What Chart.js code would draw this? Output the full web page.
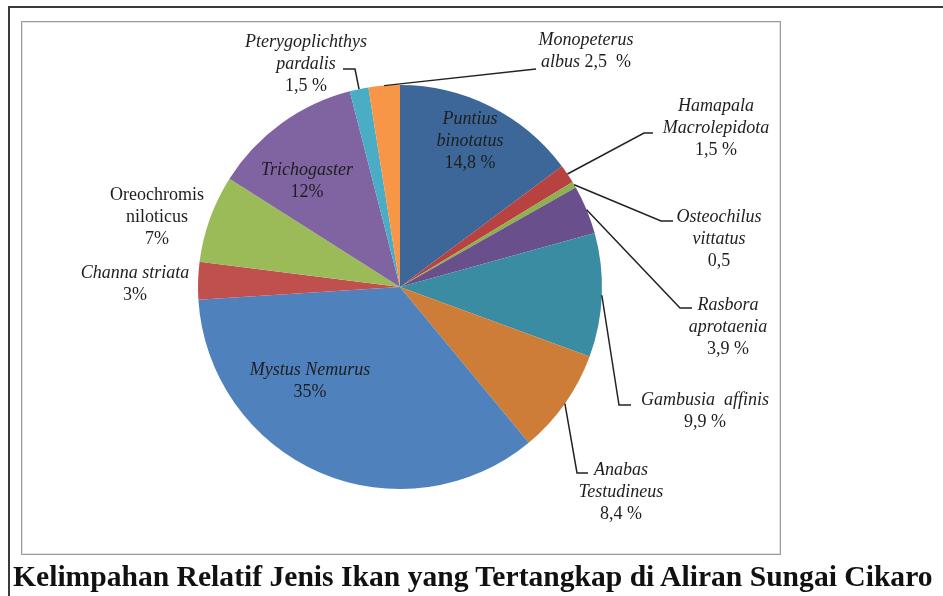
<!DOCTYPE html>
<html>
<head>
<meta charset="utf-8">
<script src="https://cdn.jsdelivr.net/npm/chart.js@4.4.1/dist/chart.umd.min.js"></script>
<style>
  html, body { margin: 0; padding: 0; background: #fff; }
  body { width: 943px; height: 596px; position: relative; overflow: hidden; }
  #outer { position: absolute; left: 8px; top: 6px; width: 940px; height: 600px;
           border-top: 2px solid #3a3a3a; border-left: 2px solid #3a3a3a; }
  #frame { position: absolute; left: 21px; top: 21px; width: 758px; height: 532px;
           border: 1px solid #9c9c9c; box-shadow: inset 0 0 0 1px #e2e2e2; }
  #chart { position: absolute; left: 0; top: 0; }
  #caption { position: absolute; left: 13px; top: 560px; white-space: nowrap;
             font: bold 29.6px "Liberation Serif", "Times New Roman", serif; color: #111; }
</style>
</head>
<body>
<div id="outer"></div>
<div id="frame"></div>
<canvas id="chart" width="943" height="596"></canvas>
<div id="caption">Kelimpahan Relatif Jenis Ikan yang Tertangkap di Aliran Sungai Cikaro</div>
<script>
// data, clockwise from 12 o'clock
const categories = ['Puntius binotatus', 'Hamapala Macrolepidota', 'Osteochilus vittatus',
    'Rasbora aprotaenia', 'Gambusia affinis', 'Anabas Testudineus', 'Mystus Nemurus',
    'Channa striata', 'Oreochromis niloticus', 'Trichogaster', 'Pterygoplichthys pardalis',
    'Monopeterus albus'];
const shares = [14.8, 1.5, 0.5, 3.9, 9.9, 8.4, 35, 3, 7, 12, 1.5, 2.5];
const valueLabels = ['14,8 %', '1,5 %', '0,5', '3,9 %', '9,9 %', '8,4 %', '35%', '3%', '7%', '12%', '1,5 %', '2,5  %'];
const nameLines = [
    ['Puntius', 'binotatus'], ['Hamapala', 'Macrolepidota'], ['Osteochilus', 'vittatus'],
    ['Rasbora', 'aprotaenia'], ['Gambusia  affinis'], ['Anabas', 'Testudineus'],
    ['Mystus Nemurus'], ['Channa striata'], ['Oreochromis', 'niloticus'], ['Trichogaster'],
    ['Pterygoplichthys', 'pardalis'], ['Monopeterus', 'albus']
];
const sliceColors = ['#3d6798', '#b8423f', '#8fb04e', '#694f8b', '#3a8ca3', '#cd7d38',
    '#4f81bd', '#c0504d', '#9bbb59', '#8064a2', '#4bacc6', '#f79646'];

// label placement relative to the pie centre (dx, dy of first line), leader elbow + end
const labelLayout = [
    { dx: 70, dy: -168 },
    { dx: 316, dy: -181, leader: [[244, -154], [253, -154]] },
    { dx: 319, dy: -70, leader: [[261, -66], [273, -66]] },
    { dx: 328, dy: 18, leader: [[280, 21], [292, 21]] },
    { dx: 305, dy: 113, leader: [[219, 118], [231, 118]] },
    { dx: 221, dy: 183, leader: [[177, 186], [188, 186]] },
    { dx: -90, dy: 83 },
    { dx: -265, dy: -14 },
    { dx: -243, dy: -92, upright: true },
    { dx: -93, dy: -117 },
    { dx: -94, dy: -245, leader: [[-45, -218], [-57, -218]] },
    { dx: 186, dy: -247, leader: [[136, -218], [136, -218]], inline: true }
];

const FONT = '18px "Liberation Serif", "Times New Roman", serif';
const FONT_I = 'italic ' + FONT;
const LINE_H = 22;

function drawSegments(ctx, segs, cx, cy) {
    let total = 0;
    segs.forEach(s => { ctx.font = s[1] ? FONT_I : FONT; total += ctx.measureText(s[0]).width; });
    let x = cx - total / 2;
    segs.forEach(s => {
        ctx.font = s[1] ? FONT_I : FONT;
        ctx.fillText(s[0], x, cy);
        x += ctx.measureText(s[0]).width;
    });
}

const pieLabels = {
    id: 'pieLabels',
    afterDatasetsDraw(chart) {
        const ctx = chart.ctx;
        const arcs = chart.getDatasetMeta(0).data;
        ctx.save();
        ctx.fillStyle = '#1e1e1e';
        ctx.strokeStyle = '#222';
        ctx.lineWidth = 1.5;
        ctx.textAlign = 'left';
        ctx.textBaseline = 'middle';
        arcs.forEach((arc, i) => {
            const p = arc.getProps(['x', 'y', 'startAngle', 'endAngle', 'outerRadius'], true);
            const lay = labelLayout[i];
            const italic = !lay.upright;
            const lines = nameLines[i].map(t => [[t, italic]]);
            if (lay.inline) lines[lines.length - 1].push([' ' + valueLabels[i], false]);
            else lines.push([[valueLabels[i], false]]);
            lines.forEach((segs, k) => drawSegments(ctx, segs, p.x + lay.dx, p.y + lay.dy + k * LINE_H));
            if (lay.leader) {
                const mid = (p.startAngle + p.endAngle) / 2;
                ctx.beginPath();
                ctx.moveTo(p.x + Math.cos(mid) * p.outerRadius, p.y + Math.sin(mid) * p.outerRadius);
                lay.leader.forEach(pt => ctx.lineTo(p.x + pt[0], p.y + pt[1]));
                ctx.stroke();
            }
        });
        ctx.restore();
    }
};

new Chart(document.getElementById('chart'), {
    type: 'pie',
    data: {
        labels: categories,
        datasets: [{ data: shares, backgroundColor: sliceColors, borderWidth: 0 }]
    },
    options: {
        responsive: false,
        animation: false,
        layout: { padding: { left: 198, right: 341, top: 85, bottom: 107 } },
        plugins: { legend: { display: false }, tooltip: { enabled: false } }
    },
    plugins: [pieLabels]
});
</script>
</body>
</html>
